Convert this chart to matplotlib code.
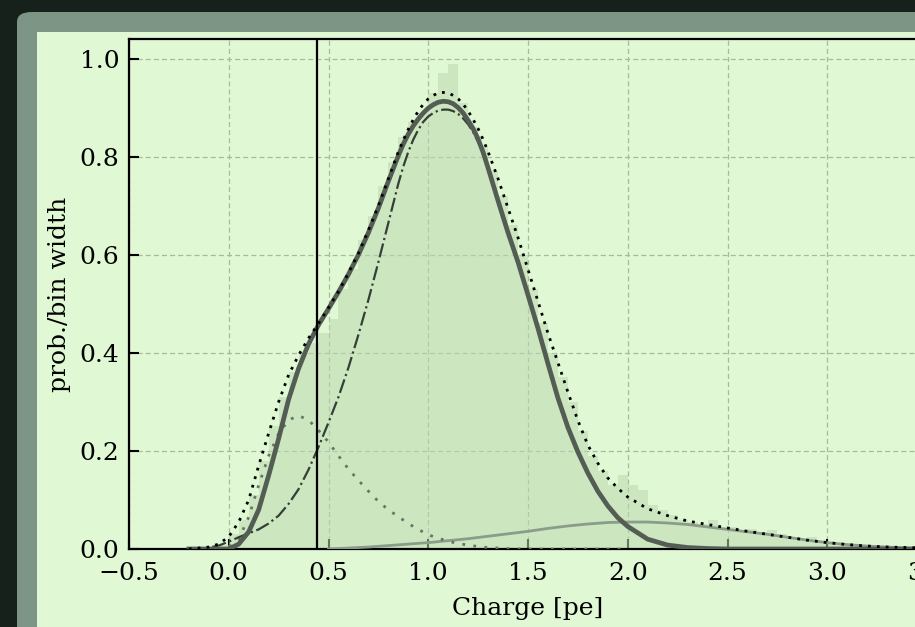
import numpy as np
import matplotlib
matplotlib.use("Agg")
import matplotlib.pyplot as plt
from matplotlib.patches import FancyBboxPatch, Rectangle

plt.rcParams['font.family'] = ['DejaVu Serif']

# histogram (bin left edges, width 0.05)
hist_edges = [-0.10, -0.05, 0.00, 0.05, 0.10, 0.15, 0.20, 0.25, 0.30, 0.35,
              0.40, 0.45, 0.50, 0.55, 0.60, 0.65, 0.70, 0.75, 0.80, 0.85,
              0.90, 0.95, 1.00, 1.05, 1.10, 1.15, 1.20, 1.25, 1.30, 1.35,
              1.40, 1.45, 1.50, 1.55, 1.60, 1.65, 1.70, 1.75, 1.80, 1.85,
              1.90, 1.95, 2.00, 2.05, 2.10, 2.15, 2.20, 2.25, 2.30, 2.35,
              2.40, 2.45, 2.50, 2.55, 2.60, 2.65, 2.70, 2.75, 2.80, 2.85,
              2.90, 2.95, 3.00, 3.05, 3.10, 3.15, 3.20, 3.25, 3.30, 3.35,
              3.40, 3.45]
hist_vals = [0.003, 0.008, 0.03, 0.06, 0.11, 0.18, 0.25, 0.31, 0.36, 0.40,
             0.42, 0.44, 0.47, 0.53, 0.57, 0.63, 0.68, 0.74, 0.79, 0.84,
             0.87, 0.89, 0.93, 0.97, 0.99, 0.91, 0.86, 0.82, 0.77, 0.72,
             0.66, 0.60, 0.53, 0.46, 0.40, 0.35, 0.30, 0.24, 0.19, 0.16,
             0.13, 0.15, 0.13, 0.12, 0.09, 0.08, 0.07, 0.06, 0.055, 0.05,
             0.06, 0.045, 0.045, 0.038, 0.04, 0.035, 0.038, 0.03, 0.025, 0.02,
             0.024, 0.015, 0.012, 0.01, 0.008, 0.006, 0.005, 0.004, 0.003, 0.003,
             0.002, 0.002]
bin_w = 0.05

x_fit = [-0.2, -0.15, -0.1, -0.05, 0.0, 0.05, 0.1, 0.15, 0.2, 0.25,
         0.3, 0.35, 0.4, 0.45, 0.5, 0.55, 0.6, 0.65, 0.7, 0.75,
         0.8, 0.85, 0.875, 0.9, 0.925, 0.95, 0.975, 1.0, 1.025, 1.05,
         1.075, 1.1, 1.125, 1.15, 1.175, 1.2, 1.225, 1.25, 1.275, 1.3,
         1.35, 1.4, 1.45, 1.5, 1.55, 1.6, 1.65, 1.7, 1.75, 1.8,
         1.85, 1.9, 1.95, 2.0, 2.1, 2.2, 2.3, 2.4, 2.5, 2.6,
         2.7, 2.8, 2.9, 3.0, 3.1, 3.2, 3.3, 3.4, 3.5]

fit_main = [0, 0, 0, 0, 0.0, 0.01, 0.035, 0.08, 0.15, 0.225,
            0.305, 0.368, 0.418, 0.457, 0.49, 0.524, 0.56, 0.6, 0.645, 0.695,
            0.75, 0.802, 0.826, 0.846, 0.863, 0.877, 0.889, 0.899, 0.906, 0.911,
            0.913, 0.912, 0.908, 0.9, 0.889, 0.874, 0.857, 0.836, 0.809, 0.777,
            0.71, 0.645, 0.585, 0.518, 0.45, 0.378, 0.308, 0.248, 0.198, 0.155,
            0.118, 0.088, 0.064, 0.046, 0.02, 0.008, 0.003, 0.001, 0, 0,
            0, 0, 0, 0, 0, 0, 0, 0, 0]

fit_total = [0.0, 0.002, 0.004, 0.01, 0.025, 0.055, 0.1, 0.17, 0.236, 0.3,
             0.355, 0.395, 0.43, 0.46, 0.492, 0.525, 0.563, 0.603, 0.65, 0.7,
             0.755, 0.81, 0.834, 0.856, 0.876, 0.893, 0.907, 0.918, 0.925, 0.93,
             0.931, 0.93, 0.925, 0.918, 0.907, 0.893, 0.876, 0.857, 0.835, 0.81,
             0.755, 0.695, 0.635, 0.57, 0.505, 0.44, 0.38, 0.32, 0.262, 0.212,
             0.175, 0.145, 0.124, 0.106, 0.082, 0.068, 0.057, 0.05, 0.043, 0.036,
             0.03, 0.024, 0.018, 0.013, 0.009, 0.006, 0.004, 0.003, 0.002]

fit_1pe = [0.0, 0.001, 0.003, 0.007, 0.015, 0.024, 0.032, 0.04, 0.052, 0.068,
           0.092, 0.122, 0.162, 0.208, 0.258, 0.31, 0.37, 0.437, 0.508, 0.585,
           0.665, 0.745, 0.78, 0.81, 0.835, 0.855, 0.871, 0.882, 0.889, 0.894,
           0.896, 0.896, 0.893, 0.887, 0.878, 0.866, 0.85, 0.83, 0.806, 0.777,
           0.712, 0.648, 0.583, 0.515, 0.45, 0.378, 0.308, 0.248, 0.198, 0.155,
           0.118, 0.088, 0.064, 0.046, 0.02, 0.008, 0.003, 0.001, 0, 0,
           0, 0, 0, 0, 0, 0, 0, 0, 0]

x_low = [-0.05, 0.0, 0.05, 0.1, 0.15, 0.2, 0.25, 0.3, 0.35, 0.4,
         0.45, 0.5, 0.55, 0.6, 0.65, 0.7, 0.75, 0.8, 0.85, 0.9,
         0.95, 1.0, 1.05, 1.1, 1.15, 1.2, 1.25, 1.3, 1.35, 1.4,
         1.5, 1.6, 1.7, 1.8, 1.9, 2.0]
fit_low = [0.0, 0.003, 0.02, 0.065, 0.13, 0.19, 0.235, 0.263, 0.272, 0.263,
           0.242, 0.218, 0.19, 0.163, 0.14, 0.118, 0.097, 0.08, 0.066, 0.052,
           0.04, 0.029, 0.022, 0.016, 0.011, 0.008, 0.005, 0.003, 0.002, 0.001,
           0.0, 0.0, 0.0, 0.0, 0.0, 0.0]

x_tail = [0.5, 0.6, 0.7, 0.8, 0.9, 1.0, 1.1, 1.2, 1.3, 1.4,
          1.5, 1.6, 1.7, 1.8, 1.9, 2.0, 2.1, 2.2, 2.3, 2.4,
          2.5, 2.6, 2.7, 2.8, 2.9, 3.0, 3.1, 3.2, 3.3, 3.4, 3.5]
fit_tail = [0.0, 0.002, 0.004, 0.007, 0.01, 0.013, 0.017, 0.021, 0.026, 0.031,
            0.036, 0.042, 0.047, 0.051, 0.054, 0.055, 0.055, 0.053, 0.05, 0.045,
            0.04, 0.035, 0.03, 0.024, 0.018, 0.013, 0.009, 0.006, 0.004, 0.002, 0.001]

threshold = 0.44

W, H = 915, 627
fig = plt.figure(figsize=(W / 100, H / 100), dpi=100)
fig.patch.set_facecolor('#16211b')

# rounded frame and light panel behind the axes
frame = FancyBboxPatch((17 / W, -0.1), 1.2, (H - 12) / H + 0.1,
                       boxstyle="round,pad=0,rounding_size=0.016",
                       transform=fig.transFigure, facecolor='#7d9585',
                       edgecolor='none', zorder=-3)
fig.patches.append(frame)
panel = Rectangle((37 / W, 0), 1.2, (H - 32) / H, transform=fig.transFigure,
                  facecolor='#e0f8d4', edgecolor='none', zorder=-2)
fig.patches.append(panel)

ax = fig.add_axes([129 / W, (H - 549) / H, 798 / W, 510 / H])
ax.set_facecolor('#e0f8d4')

ax.bar(hist_edges, hist_vals, width=bin_w, align='edge', color='#bcd8b0',
       alpha=0.55, linewidth=0, zorder=1)

ax.plot(x_tail, fit_tail, color='#8b9c8b', lw=2.0, zorder=3)
ax.plot(x_low, fit_low, color='#687468', lw=2.0, ls=(0, (1, 3)), zorder=3)
ax.plot(x_fit, fit_1pe, color='#363f36', lw=1.6, ls='-.', zorder=4)
ax.plot(x_fit, fit_main, color='#535d53', lw=3.4, zorder=5,
        solid_joinstyle='round')
ax.plot(x_fit, fit_total, color='black', lw=2.0, ls=(0, (1, 2.2)), zorder=6)
ax.axvline(threshold, color='black', lw=1.6, zorder=7)

ax.set_xlim(-0.5, 3.5)
ax.set_ylim(0, 1.04)
ax.set_xticks([-0.5, 0.0, 0.5, 1.0, 1.5, 2.0, 2.5, 3.0, 3.5])
ax.set_yticks([0.0, 0.2, 0.4, 0.6, 0.8, 1.0])
ax.grid(True, color='#a9b9a1', ls=(0, (4, 2.5)), lw=0.9, zorder=0)
ax.set_axisbelow(True)

ax.tick_params(direction='in', length=7, width=1.5, labelsize=18, pad=7,
               colors='black')
ax.tick_params(axis='x', pad=9)
for s in ax.spines.values():
    s.set_linewidth(1.6)

ax.set_xlabel("Charge [pe]", fontsize=18, labelpad=9)
ax.set_ylabel("prob./bin width", fontsize=18, labelpad=6)

fig.savefig("out.png", dpi=100, facecolor=fig.get_facecolor())
